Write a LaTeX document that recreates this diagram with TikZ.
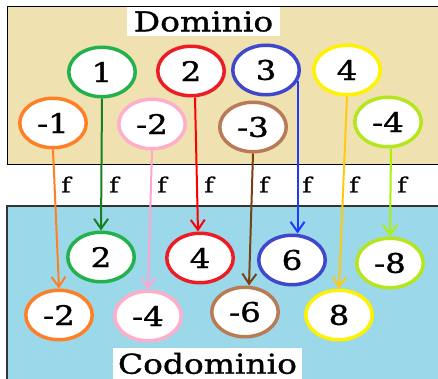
\documentclass[tikz,border=0pt]{standalone}
\usepackage{fontspec}
\usetikzlibrary{shapes.geometric,arrows.meta}
\newfontfamily\dv[FakeStretch=1.2,FakeBold=1.2]{DejaVu Serif}
\definecolor{tanbg}{RGB}{239,226,176}
\definecolor{bluebg}{RGB}{155,216,234}
\definecolor{cor}{RGB}{255,127,39}
\definecolor{cgr}{RGB}{34,177,76}
\definecolor{agr}{RGB}{20,130,30}
\definecolor{cpk}{RGB}{255,174,201}
\definecolor{apk}{RGB}{255,165,210}
\definecolor{crd}{RGB}{237,28,36}
\definecolor{ard}{RGB}{255,0,0}
\definecolor{cbr}{RGB}{185,122,87}
\definecolor{abr}{RGB}{120,65,20}
\definecolor{cbl}{RGB}{63,72,204}
\definecolor{abl}{RGB}{30,60,255}
\definecolor{cye}{RGB}{255,242,0}
\definecolor{aye}{RGB}{255,201,14}
\definecolor{cli}{RGB}{181,230,29}
\definecolor{ali}{RGB}{170,240,10}
\begin{document}
\begin{tikzpicture}[x=1pt,y=-1pt,
  el/.style={ellipse, draw=#1, line width=3.5pt, fill=white,
    minimum width=66.5pt, minimum height=49.5pt, inner sep=0pt,
    font=\dv\fontsize{27}{27}\selectfont},
  arr/.style={draw=#1, line width=2pt, -{Straight Barb[length=10pt,width=14pt]}},
  flab/.style={inner sep=0pt, font=\dv\fontsize{21}{21}\selectfont},
  title/.style={fill=white, inner sep=0pt, font=\dv\fontsize{27.4}{27.4}\selectfont}]
\useasboundingbox (0,0) rectangle (438,379);
% backgrounds
\fill[tanbg] (7,7) rectangle (438,165);
\draw[line width=1pt] (438,7) -- (7,7) -- (7,165) -- (438,165);
\fill[bluebg] (7,206) rectangle (438,379);
\draw[line width=1.5pt, black!80] (438,206) -- (7,206) -- (7,379);
% titles
\node[title, minimum width=153pt, minimum height=29pt] (dom) at (203.5,21.5) {Dominio};
\node[title, minimum width=189pt, minimum height=31pt] (cod) at (207.5,363.5) {Codominio};
% domain
\node[el=cgr] (n1) at (102,72) {1};
\node[el=crd] (n2) at (191,71) {2};
\node[el=cbl] (n3) at (266,70) {3};
\node[el=cye] (n4) at (347,70) {4};
\node[el=cor] (nm1) at (53,123) {-1};
\node[el=cpk] (nm2) at (152,124) {-2};
\node[el=cbr] (nm3) at (253,127) {-3};
\node[el=cli] (nm4) at (388,122) {-4};
% codomain
\node[el=cgr] (m2) at (101,257) {2};
\node[el=crd] (m4) at (200,258) {4};
\node[el=cbl] (m6) at (292,260) {6};
\node[el=cli] (mm8) at (390,263) {-8};
\node[el=cor] (mm2) at (59,315) {-2};
\node[el=cpk] (mm4) at (148,316) {-4};
\node[el=cbr] (mm6) at (245,312) {-6};
\node[el=cye] (m8) at (339,315) {8};
% arrows
\draw[arr=cor] (nm1.south) -- (mm2.north);
\draw[arr=agr] (n1.south) -- (m2.north);
\draw[arr=apk] (nm2.south) -- (mm4.north);
\draw[arr=ard] ([xshift=4pt]n2.south) -- ([xshift=-2pt]m4.north);
\draw[arr=abr] (nm3.south) -- ([xshift=4pt]mm6.north);
\draw[arr=abl] (n3.-20) -- (n3.-20 |- m6.north);
\draw[arr=aye] (n4.south) -- (m8.north);
\draw[arr=ali] ([xshift=3pt]nm4.south) -- (mm8.north);
% f labels
\foreach \i/\x in {1/66,2/114,3/162,4/209,5/264,6/307,7/354,8/402}
  \node[flab] (f\i) at (\x,184.5) {f};
\end{tikzpicture}
\end{document}
